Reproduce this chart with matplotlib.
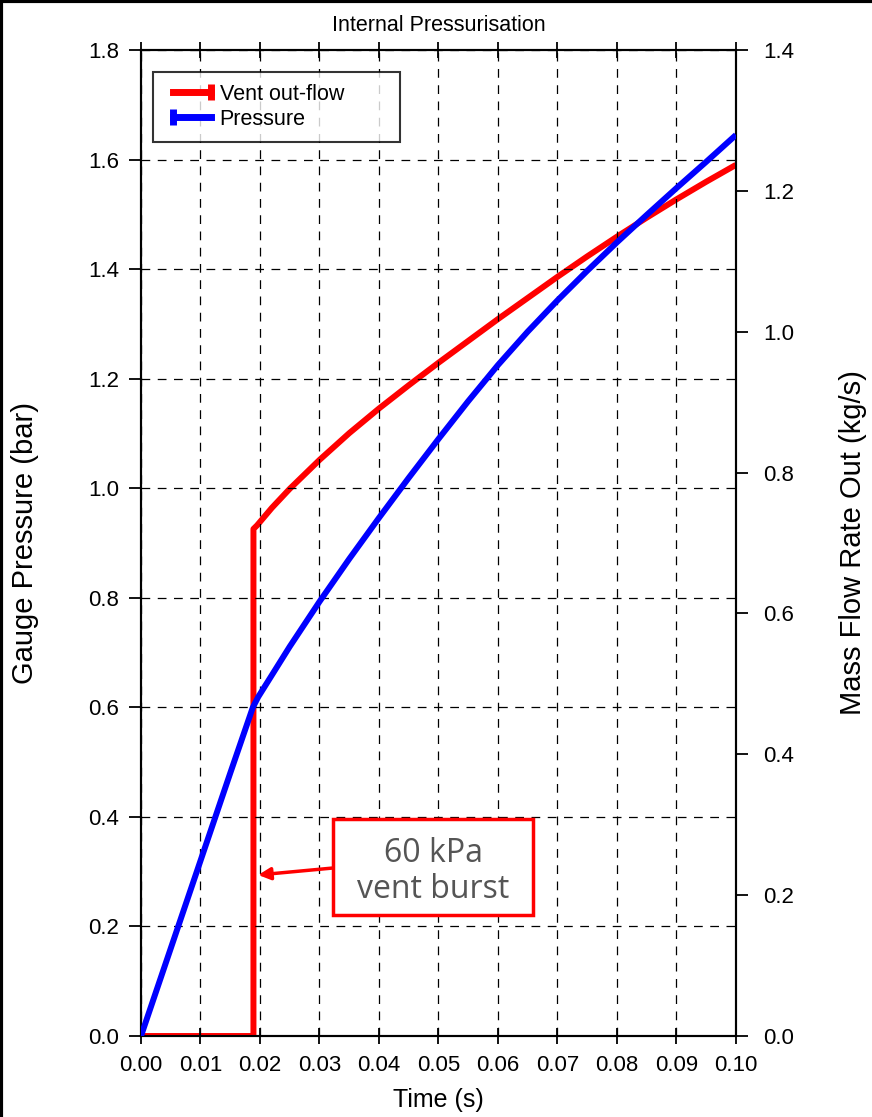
import numpy as np
import matplotlib
matplotlib.use("Agg")
import matplotlib.pyplot as plt
from matplotlib.lines import Line2D
from matplotlib.patches import Rectangle
from matplotlib.legend_handler import HandlerLine2D

plt.rcParams['font.family'] = ['Liberation Sans', 'DejaVu Sans']

# vent out-flow (kg/s), right axis
flow_t = [0, 0.0189, 0.0189, 0.0195, 0.022, 0.025, 0.03, 0.035, 0.04, 0.045,
          0.05, 0.055, 0.06, 0.065, 0.07, 0.075, 0.08, 0.085, 0.09, 0.095, 0.10]
flow_m = [0, 0, 0.72, 0.725, 0.750, 0.777, 0.818, 0.856, 0.891, 0.924,
          0.956, 0.987, 1.018, 1.048, 1.078, 1.107, 1.135, 1.162, 1.188, 1.213, 1.237]

# gauge pressure (bar), left axis
pres_t = [0, 0.005, 0.01, 0.015, 0.0188, 0.0197, 0.025, 0.03, 0.035, 0.04, 0.045,
          0.05, 0.055, 0.06, 0.065, 0.07, 0.075, 0.08, 0.085, 0.09, 0.095, 0.10]
pres_p = [0, 0.16, 0.32, 0.48, 0.600, 0.619, 0.711, 0.793, 0.871, 0.946, 1.019,
          1.090, 1.159, 1.225, 1.286, 1.343, 1.397, 1.449, 1.499, 1.548, 1.596, 1.645]

x_ticks = [0.00, 0.01, 0.02, 0.03, 0.04, 0.05, 0.06, 0.07, 0.08, 0.09, 0.10]
left_ticks = [0.0, 0.2, 0.4, 0.6, 0.8, 1.0, 1.2, 1.4, 1.6, 1.8]
right_ticks = [0.0, 0.2, 0.4, 0.6, 0.8, 1.0, 1.2, 1.4]


class CapHandler(HandlerLine2D):
    # legend line with a bar at one end only
    def __init__(self, side, **kw):
        super().__init__(numpoints=2, **kw)
        self.side = side

    def get_xdata(self, legend, xdescent, ydescent, width, height, fontsize):
        xd = np.array([-xdescent + 0.18 * width, -xdescent + width])
        return xd, xd

    def create_artists(self, legend, orig_handle, xdescent, ydescent, width, height,
                       fontsize, trans):
        arts = super().create_artists(legend, orig_handle, xdescent, ydescent, width,
                                      height, fontsize, trans)
        arts[0].set_markevery([1] if self.side == 'right' else [0])
        return arts


fig = plt.figure(figsize=(8.72, 11.17), dpi=100)
ax = fig.add_axes([0.1617, 0.0725, 0.6823, 0.8827])
ax2 = ax.twinx()

ax.plot(pres_t, pres_p, color='#0000ff', lw=4.3, solid_capstyle='butt', zorder=3)
ax2.plot(flow_t, flow_m, color='#ff0000', lw=4.3, solid_capstyle='butt', zorder=3)
ax.set_zorder(ax2.get_zorder() + 1)
ax.patch.set_visible(False)

ax.set_xlim(0, 0.10)
ax.set_ylim(0, 1.8)
ax2.set_ylim(0, 1.4)
ax.set_xticks(x_ticks)
ax.set_xticklabels([f"{v:.2f}" for v in x_ticks])
ax.set_yticks(left_ticks)
ax.set_yticklabels([f"{v:.1f}" for v in left_ticks])
ax2.set_yticks(right_ticks)
ax2.set_yticklabels([f"{v:.1f}" for v in right_ticks])

ax.grid(True, color='black', linestyle=(0, (7, 6)), linewidth=0.9)

for a in (ax, ax2):
    for s in a.spines.values():
        s.set_linewidth(1.5)
ax.tick_params(axis='x', direction='inout', length=11.5, width=1.3, top=True,
               labelsize=16, pad=8)
ax.tick_params(axis='y', direction='out', length=8.6, width=1.3, labelsize=16, pad=7)
ax2.tick_params(axis='y', direction='out', length=8.6, width=1.3, labelsize=16, pad=11)

ax.set_xlabel("Time (s)", fontsize=18)
ax.xaxis.set_label_coords(0.5, -0.053)
ax.set_ylabel("Gauge Pressure (bar)", fontsize=21)
ax.yaxis.set_label_coords(-0.172, 0.5)
ax2.set_ylabel("Mass Flow Rate Out (kg/s)", fontsize=21)
ax2.yaxis.set_label_coords(1.174, 0.5)
ax.set_title("Internal Pressurisation", fontsize=15.5, pad=14)

h_red = Line2D([], [], color='#ff0000', lw=5, marker='|', markersize=11, mew=5)
h_blue = Line2D([], [], color='#0000ff', lw=5, marker='|', markersize=11, mew=5)
leg = ax.legend([h_red, h_blue], ["Vent out-flow", "Pressure"],
                handler_map={h_red: CapHandler('right'), h_blue: CapHandler('left')},
                loc='upper left', bbox_to_anchor=(0.02, 0.904, 0.415, 0.074),
                mode='expand', borderaxespad=0, fontsize=15.5, frameon=True,
                fancybox=False, handlelength=2.15, handletextpad=0.4,
                labelspacing=0.2, borderpad=0.55)
leg.get_frame().set_edgecolor('black')
leg.get_frame().set_linewidth(1.5)

# annotation box
ax.add_patch(Rectangle((0.3227, 0.1227), 0.336, 0.0974, transform=ax.transAxes,
                       facecolor='white', edgecolor='#ff0000', lw=2.5, zorder=5))
ax.text(0.4908, 0.1669, "60 kPa\nvent burst", transform=ax.transAxes, ha='center',
        va='center', fontsize=23, color='#555555', family=['Open Sans', 'DejaVu Sans'],
        linespacing=1.1, zorder=6)
ax.annotate("", xy=(0.0197, 0.294), xycoords='data',
            xytext=(0.3227, 0.1704), textcoords='axes fraction',
            arrowprops=dict(arrowstyle='-|>', color='#ff0000', lw=2.5,
                            mutation_scale=18, shrinkA=0, shrinkB=0), zorder=6)

# screenshot frame on top and left
fig.add_artist(Line2D([0, 1], [0.999, 0.999], transform=fig.transFigure, color='black', lw=3))
fig.add_artist(Line2D([0.001, 0.001], [0, 1], transform=fig.transFigure, color='black', lw=3))

fig.savefig("out.png", dpi=100)
